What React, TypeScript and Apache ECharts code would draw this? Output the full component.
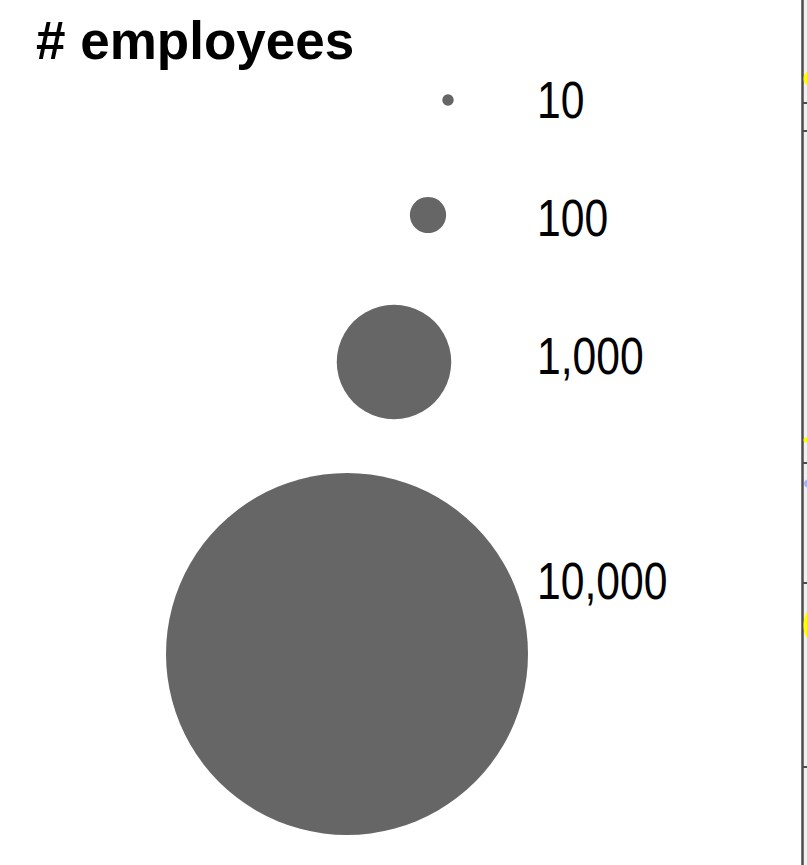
import React, { useEffect, useRef } from "react";
import * as echarts from "echarts";

// ---- data ----
const legendTitle = "# employees";
const sizeValues = [10, 100, 1000, 10000];
const sizeLabels = ["10", "100", "1,000", "10,000"];

// cropped neighbouring panel (right edge): tick positions on its y scale (0..865)
const panelTicks = [103, 131, 463, 583, 767];
// bubbles of that panel peeking in: x (px from panel edge), y, radius, colour
const panelBubbleX = [8.8, 29, 5.5, 3.5];
const panelBubbleY = [78.5, 625, 483.5, 440];
const panelBubbleR = [7.8, 28, 4, 2.5];
const panelBubbleColor = ["#ffff00", "#ffff00", "#a9b0ea", "#ffff00"];

// ---- layout (legend key anchors, px) ----
const keyX = [448, 428, 394, 347];
const keyY = [100, 215, 362, 654];
const labelX = 537;
const labelY = [100, 218, 356, 581];
const SIZE_K = 3.62; // diameter = SIZE_K * sqrt(value)
const PANEL_LEFT = 802.5;

export default function App() {
  const ref = useRef<HTMLDivElement>(null);
  useEffect(() => {
    document.body.style.margin = "0";
    const chart = echarts.init(ref.current!, undefined, { renderer: "svg" });
    const panelW = 807 - PANEL_LEFT;
    const option: any = {
      animation: false,
      backgroundColor: "#ffffff",
      grid: [
        { left: 0, top: 0, right: 0, bottom: 0, show: false },
        { left: PANEL_LEFT, top: 0, right: 0, bottom: 0, show: true, backgroundColor: "#f0f0f0", borderWidth: 0 },
      ],
      xAxis: [
        { gridIndex: 0, type: "value", min: 0, max: 807, show: false },
        { gridIndex: 1, type: "value", min: 0, max: panelW, show: false },
      ],
      yAxis: [
        { gridIndex: 0, type: "value", min: 0, max: 865, inverse: true, show: false },
        {
          gridIndex: 1, type: "value", min: 0, max: 865, inverse: true, show: true,
          position: "right",
          offset: -panelW,
          axisLine: { show: true, onZero: false, lineStyle: { color: "#4d4d4d", width: 2.5 } },
          axisTick: { show: true, inside: false, length: 5, customValues: panelTicks, lineStyle: { color: "#4d4d4d", width: 2 } },
          axisLabel: { show: false },
          splitLine: { show: false },
        },
      ],
      series: [
        {
          type: "scatter", xAxisIndex: 1, yAxisIndex: 1, silent: true, clip: false, z: 1,
          data: panelBubbleX.map((x, i) => ({
            value: [x, panelBubbleY[i]],
            symbolSize: panelBubbleR[i] * 2,
            itemStyle: { color: panelBubbleColor[i], opacity: 1 },
          })),
        },
        {
          type: "scatter", xAxisIndex: 0, yAxisIndex: 0, silent: true, clip: false,
          itemStyle: { color: "#666666", opacity: 1 },
          symbolSize: (d: number[]) => SIZE_K * Math.sqrt(d[2]),
          data: sizeValues.map((v, i) => [keyX[i], keyY[i], v]),
        },
      ],
      graphic: [
        {
          type: "text", x: 36, y: 40,
          style: { text: legendTitle, fontFamily: "Liberation Sans, Arial, sans-serif", fontWeight: "bold", fontSize: 53, fill: "#000000", align: "left", verticalAlign: "middle" },
        },
        ...sizeLabels.map((t, i) => ({
          type: "text", x: labelX, y: labelY[i], scaleX: 0.82,
          style: { text: t, x: 0, y: 0, fontFamily: "Liberation Sans, Arial, sans-serif", fontSize: 52, fill: "#000000", align: "left", verticalAlign: "middle" },
        })),
      ],
    };
    chart.setOption(option);
    return () => chart.dispose();
  }, []);
  return <div ref={ref} style={{ width: 807, height: 865 }} />;
}
